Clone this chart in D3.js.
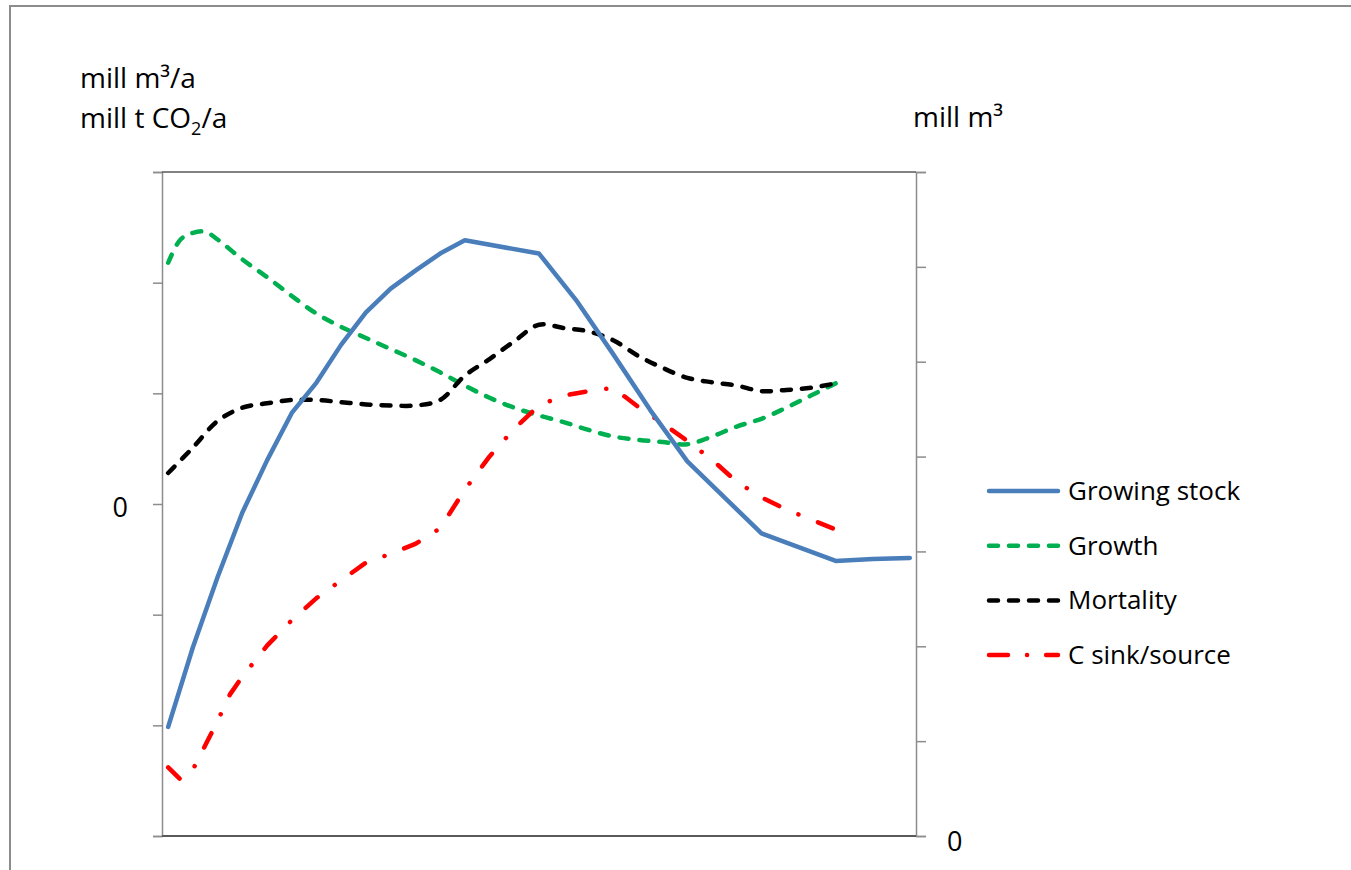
<!DOCTYPE html>
<html>
<head>
<meta charset="utf-8">
<script src="https://cdnjs.cloudflare.com/ajax/libs/d3/7.8.5/d3.min.js"></script>
<style>
  body { margin: 0; background: #fff; }
  text { font-family: "Open Sans", Lato, sans-serif; fill: #000; }
</style>
</head>
<body>
<div id="chart"></div>
<script>
// x = time step (0..60)
const growingStock = [ // mill m3, right axis
  [0, 1.15], [2, 1.99], [4, 2.73], [6, 3.41], [8, 3.96], [10, 4.46], [12, 4.78],
  [14, 5.18], [16, 5.52], [18, 5.77], [20, 5.96], [22, 6.14], [24, 6.28],
  [30, 6.14], [33, 5.65], [36, 5.08], [39, 4.49], [42, 3.95], [48, 3.19],
  [54, 2.90], [57, 2.92], [60, 2.93]
];
const growth = [ // left axis
  [0, 2.18], [1, 2.39], [2, 2.45], [3, 2.46], [4, 2.39], [6, 2.21], [8, 2.05],
  [10, 1.88], [12, 1.72], [14, 1.60], [16, 1.50], [18, 1.40], [20, 1.30],
  [22, 1.19], [24, 1.07], [26, 0.96], [28, 0.87], [30, 0.80], [32, 0.74],
  [34, 0.67], [36, 0.61], [38, 0.58], [40, 0.56], [42, 0.54], [44, 0.61],
  [46, 0.70], [48, 0.77], [50, 0.87], [52, 0.98], [54, 1.09]
];
const mortality = [ // left axis
  [0, 0.28], [2, 0.51], [4, 0.75], [6, 0.87], [8, 0.91], [10, 0.94], [12, 0.94],
  [14, 0.92], [16, 0.90], [18, 0.89], [20, 0.89], [22, 0.94], [24, 1.16],
  [26, 1.31], [28, 1.47], [30, 1.62], [32, 1.59], [34, 1.56], [36, 1.48],
  [38, 1.34], [40, 1.23], [42, 1.14], [44, 1.10], [46, 1.07], [48, 1.02],
  [50, 1.03], [52, 1.05], [54, 1.09]
];
const carbon = [ // C sink/source, left axis
  [0, -2.38], [1, -2.49], [2, -2.40], [3, -2.18], [4, -1.96], [5, -1.72],
  [6, -1.56], [8, -1.28], [10, -1.05], [12, -0.85], [14, -0.69], [16, -0.53],
  [18, -0.45], [20, -0.36], [22, -0.22], [24, 0.13], [26, 0.43], [28, 0.68],
  [30, 0.89], [32, 0.98], [34, 1.02], [36, 1.05], [38, 0.88], [40, 0.73],
  [42, 0.57], [44, 0.40], [46, 0.20], [48, 0.06], [50, -0.05], [52, -0.14],
  [54, -0.23]
];

const leftTicks = [-3, -2, -1, 0, 1, 2, 3];
const rightTicks = [0, 1, 2, 3, 4, 5, 6, 7];
const seriesNames = ["Growing stock", "Growth", "Mortality", "C sink/source"];

let drawChart = () => {
  const W = 1351, H = 870;
  const margin = { top: 172, right: 435, bottom: 34, left: 162 };
  const width = W - margin.left - margin.right;
  const height = H - margin.top - margin.bottom;

  const svg = d3.select("#chart").append("svg")
    .attr("width", W).attr("height", H);

  // outer frame
  svg.append("rect")
    .attr("x", 10).attr("y", 6).attr("width", 1360).attr("height", 900)
    .attr("fill", "none").attr("stroke", "#8c8c8c").attr("stroke-width", 2);

  const g = svg.append("g").attr("transform", `translate(${margin.left},${margin.top})`);

  const xScale = d3.scaleLinear().domain([-0.5, 60.5]).range([0, width]);
  const yLeft = d3.scaleLinear().domain([-3, 3]).range([height, 0]);
  const yRight = d3.scaleLinear().domain([0, 7]).range([height, 0]);

  // axes
  const leftAxis = g.append("g")
    .call(d3.axisLeft(yLeft).tickValues(leftTicks).tickSize(9).tickFormat(d => d === 0 ? "0" : ""));
  const rightAxis = g.append("g").attr("transform", `translate(${width},0)`)
    .call(d3.axisRight(yRight).tickValues(rightTicks).tickSize(10).tickFormat(d => d === 0 ? "0" : ""));
  [leftAxis, rightAxis].forEach(a => {
    a.select(".domain").attr("stroke", "#8c8c8c").attr("stroke-width", 1.5);
    a.selectAll(".tick line").attr("stroke", "#8c8c8c").attr("stroke-width", 1.5);
    a.selectAll(".tick text").style("font-size", "27px").attr("fill", "#000");
  });
  leftAxis.selectAll(".tick text").attr("x", -34).attr("dy", "0.45em");
  rightAxis.selectAll(".tick text").attr("x", 31).attr("dy", "0.55em");

  // top and bottom plot border
  g.append("line").attr("x1", 0).attr("x2", width).attr("y1", 0).attr("y2", 0)
    .attr("stroke", "#595959").attr("stroke-width", 1.5);
  g.append("line").attr("x1", 0).attr("x2", width).attr("y1", height).attr("y2", height)
    .attr("stroke", "#595959").attr("stroke-width", 2);

  const lineLeft = d3.line().x(d => xScale(d[0])).y(d => yLeft(d[1]));
  const lineLeftSmooth = d3.line().curve(d3.curveCatmullRom).x(d => xScale(d[0])).y(d => yLeft(d[1]));
  const lineRight = d3.line().x(d => xScale(d[0])).y(d => yRight(d[1]));

  const styles = [
    { color: "#4a7ebb", dash: null },
    { color: "#00b050", dash: "9,11" },
    { color: "#000000", dash: "9,11" },
    { color: "#ff0000", dash: "16,21,0.1,21" }
  ];

  const paths = [
    lineRight(growingStock),
    lineLeftSmooth(growth),
    lineLeftSmooth(mortality),
    lineLeft(carbon)
  ];

  // draw order: growing stock on top
  [1, 2, 3, 0].forEach(i => {
    g.append("path")
      .attr("d", paths[i])
      .attr("fill", "none")
      .attr("stroke", styles[i].color)
      .attr("stroke-width", 4.5)
      .attr("stroke-linecap", "round")
      .attr("stroke-linejoin", "round")
      .attr("stroke-dasharray", styles[i].dash);
  });

  // legend
  const legend = svg.append("g").attr("transform", "translate(987,491)");
  seriesNames.forEach((name, i) => {
    const row = legend.append("g").attr("transform", `translate(0,${i * 54.7})`);
    row.append("line")
      .attr("x1", 2).attr("x2", 71).attr("y1", 0).attr("y2", 0)
      .attr("stroke", styles[i].color)
      .attr("stroke-width", 4.5)
      .attr("stroke-linecap", "round")
      .attr("stroke-dasharray", i === 3 ? "19,19,0.1,19" : styles[i].dash);
    row.append("text")
      .attr("x", 81).attr("y", 9)
      .style("font-size", "26px")
      .text(name);
  });

  // axis titles
  svg.append("text").attr("x", 80).attr("y", 88).style("font-size", "28px").text("mill m³/a");
  const t2 = svg.append("text").attr("x", 80).attr("y", 128).style("font-size", "28px");
  t2.append("tspan").text("mill t CO");
  t2.append("tspan").attr("dy", 7).style("font-size", "18px").text("2");
  t2.append("tspan").attr("dy", -7).text("/a");
  svg.append("text").attr("x", 913).attr("y", 127).style("font-size", "28px").text("mill m³");
};

drawChart();
</script>
</body>
</html>
